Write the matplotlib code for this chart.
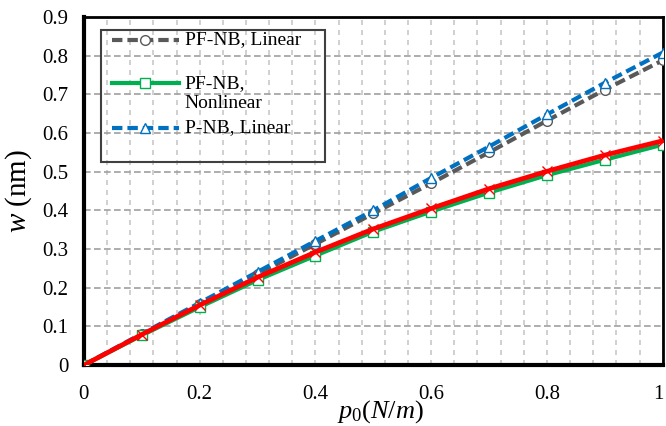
import numpy as np
import matplotlib.pyplot as plt
from matplotlib.lines import Line2D
from matplotlib.patches import Rectangle
from matplotlib.ticker import MultipleLocator
from matplotlib.transforms import ScaledTranslation

# load values
p0 = [0, 0.1, 0.2, 0.3, 0.4, 0.5, 0.6, 0.7, 0.8, 0.9, 1.0]
pf_linear = [0, 0.080, 0.157, 0.235, 0.313, 0.392, 0.470, 0.550, 0.632, 0.712, 0.788]
p_linear = [0, 0.081, 0.161, 0.241, 0.321, 0.400, 0.484, 0.565, 0.648, 0.730, 0.808]
pf_nonlinear = [0, 0.077, 0.150, 0.220, 0.283, 0.345, 0.397, 0.446, 0.491, 0.531, 0.570]
p_nonlinear = [0, 0.079, 0.155, 0.227, 0.292, 0.352, 0.405, 0.456, 0.501, 0.543, 0.580]

legend_labels = ['PF-NB, Linear', 'PF-NB,\nNonlinear', 'P-NB, Linear']

plt.rcParams['font.family'] = ['Liberation Serif', 'DejaVu Serif']
plt.rcParams['mathtext.fontset'] = 'custom'
plt.rcParams['mathtext.it'] = 'Liberation Serif:italic'
plt.rcParams['mathtext.rm'] = 'Liberation Serif'

fig = plt.figure(figsize=(6.66, 4.26), dpi=100)
ax = fig.add_axes([0.126, 0.143, 0.869, 0.817])

gray = '#595959'
green = '#00B050'
blue = '#0070C0'
red = '#FF0000'
dash = (2.5, 1.2)

#grid
ax.set_axisbelow(True)
ax.xaxis.set_major_locator(MultipleLocator(0.2))
ax.xaxis.set_minor_locator(MultipleLocator(0.04))
ax.yaxis.set_major_locator(MultipleLocator(0.1))
ax.grid(True, which='both', axis='x', color='#c8c8c8', linewidth=1.2, linestyle=(0, (3, 3)))
ax.grid(True, which='major', axis='y', color='#a0a0a0', linewidth=1.2, linestyle=(0, (4, 2)))

# series style: color, linestyle, marker, marker size
styles = {
    'pf_lin': dict(color=gray, ls=(0, dash), marker='o', ms=7),
    'pf_non': dict(color=green, ls='-', marker='s', ms=6.5),
    'p_lin': dict(color=blue, ls=(0, dash), marker='^', ms=7.5),
}

ax.plot(p0, pf_linear, lw=3, mfc='white', mec=gray, mew=1.0, zorder=3, **styles['pf_lin'])
ax.plot(p0, p_linear, lw=3, mfc='white', mec=blue, mew=1.0, zorder=4, **styles['p_lin'])
ax.plot(p0, pf_nonlinear, lw=3, mfc='white', mec=green, mew=1.0, zorder=5, **styles['pf_non'])
ax.plot(p0, p_nonlinear, color=red, lw=3.4, marker='x', ms=7,
        mec=red, mew=1.0, zorder=6)

ax.set_xlim(0, 1)
ax.set_ylim(0, 0.9)
ax.set_xticks(np.arange(0, 1.01, 0.2))
ax.set_xticklabels(['0', '0.2', '0.4', '0.6', '0.8', '1'])
ax.set_yticks(np.arange(0, 0.91, 0.1))
ax.set_yticklabels(['0'] + ['%.1f' % v for v in np.arange(0.1, 0.91, 0.1)])
ax.tick_params(which='both', length=0, labelsize=15)
ax.tick_params(axis='y', pad=11)
ax.tick_params(axis='x', pad=14)

# last x label sits right at the figure edge, nudge it in a bit
last = ax.get_xticklabels()[-1]
last.set_transform(last.get_transform() + ScaledTranslation(-3 / 72, 0, fig.dpi_scale_trans))

for s in ['left', 'bottom']:
    ax.spines[s].set_linewidth(3)
for s in ['top', 'right']:
    ax.spines[s].set_linewidth(2)

ax.set_ylabel(r'$w$ (nm)', fontsize=21, labelpad=6)
ax.set_xlabel(r'$p_0(N/m)$', fontsize=19)
ax.xaxis.set_label_coords(0.512, -0.095)

# legend drawn by hand (excel layout: uneven row spacing, transparent box)
ax.add_patch(Rectangle((0.029, 0.583), 0.387, 0.379, transform=ax.transAxes,
                       fill=False, edgecolor='#404040', lw=1.5, zorder=7, clip_on=False))
rows = [('pf_lin', 0.934, 0.934), ('pf_non', 0.810, 0.780), ('p_lin', 0.681, 0.681)]
for (key, y_handle, y_text), label in zip(rows, legend_labels):
    st = styles[key]
    ax.add_line(Line2D([0.048, 0.164], [y_handle, y_handle], transform=ax.transAxes,
                       color=st['color'], ls=st['ls'], lw=3, zorder=8, clip_on=False))
    ax.add_line(Line2D([0.106], [y_handle], transform=ax.transAxes, ls='none',
                       marker=st['marker'], ms=st['ms'], mfc='white', mec=st['color'],
                       mew=1.0, zorder=9, clip_on=False))
    ax.text(0.174, y_text, label, transform=ax.transAxes, fontsize=14,
            va='center', ha='left', linespacing=1.2, zorder=9)

fig.savefig('out.png', dpi=100)
